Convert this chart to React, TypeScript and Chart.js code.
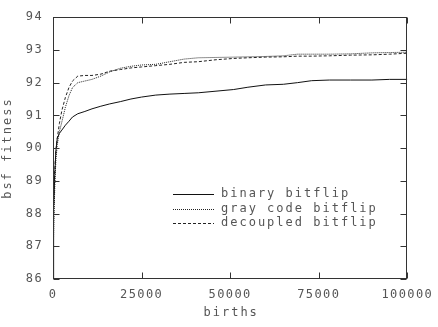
import { useEffect, useRef } from 'react';
import { Chart, registerables } from 'chart.js';

Chart.register(...registerables);

// Sample points (births) shared by the three best-so-far fitness curves
const births = [
  0, 100, 250, 500, 800, 1200, 1800, 2500, 3500, 4500, 5500, 7000, 9000, 11000,
  13500, 16000, 19000, 22000, 25000, 29000, 33000, 37000, 41000, 46000, 51000,
  55000, 60000, 65000, 69000, 73000, 78000, 84000, 90000, 95000, 100000,
];

const binaryBitflip = [
  86.0, 87.3, 88.2, 89.2, 89.9, 90.3, 90.45, 90.55, 90.7, 90.82, 90.95, 91.05,
  91.12, 91.2, 91.28, 91.35, 91.42, 91.5, 91.56, 91.62, 91.65, 91.67, 91.69,
  91.74, 91.79, 91.86, 91.93, 91.95, 92.0, 92.06, 92.08, 92.08, 92.08, 92.1, 92.1,
];

const grayCodeBitflip = [
  86.0, 87.0, 87.8, 88.8, 89.6, 90.1, 90.5, 90.8, 91.25, 91.6, 91.85, 92.0,
  92.05, 92.1, 92.2, 92.33, 92.44, 92.5, 92.54, 92.56, 92.64, 92.72, 92.76,
  92.77, 92.78, 92.79, 92.8, 92.82, 92.87, 92.87, 92.87, 92.88, 92.91, 92.92, 92.93,
];

const decoupledBitflip = [
  86.0, 87.4, 88.4, 89.3, 89.9, 90.3, 90.75, 91.15, 91.55, 91.85, 92.05, 92.2,
  92.22, 92.22, 92.26, 92.35, 92.4, 92.45, 92.48, 92.52, 92.56, 92.62, 92.64,
  92.7, 92.74, 92.76, 92.78, 92.79, 92.81, 92.81, 92.82, 92.84, 92.85, 92.87, 92.9,
];

const seriesLabels = ['binary bitflip', 'gray code bitflip', 'decoupled bitflip'];
const seriesDashes: number[][] = [[], [1, 1], [3, 2]];

const xTitle = 'births';
const yTitle = 'bsf fitness';

const FONT = '"DejaVu Sans Mono", monospace';
const INK = '#333333';
const TEXT = '#555555';

const toPoints = (ys: number[]) => births.map((b, i) => ({ x: b, y: ys[i] }));

// Frame, inward tick marks, axis titles and an in-plot legend
const decorations = {
  id: 'decorations',
  beforeDraw(chart: any) {
    (chart.ctx as any).letterSpacing = '1.4px';
  },
  afterDraw(chart: any) {
    const { ctx, chartArea: a, scales } = chart;
    ctx.save();
    ctx.strokeStyle = INK;
    ctx.lineWidth = 1;
    ctx.setLineDash([]);
    const L = Math.round(a.left) + 0.5;
    const R = Math.round(a.right) - 0.5;
    const T = Math.round(a.top) + 0.5;
    const B = Math.round(a.bottom) - 0.5;
    ctx.strokeRect(L, T, R - L, B - T);

    const tick = 6;
    ctx.beginPath();
    for (const t of scales.x.ticks) {
      const px = Math.round(scales.x.getPixelForValue(t.value)) + 0.5;
      ctx.moveTo(px, B);
      ctx.lineTo(px, B - tick);
      ctx.moveTo(px, T);
      ctx.lineTo(px, T + tick);
    }
    for (const t of scales.y.ticks) {
      const py = Math.round(scales.y.getPixelForValue(t.value)) + 0.5;
      ctx.moveTo(L, py);
      ctx.lineTo(L + tick, py);
      ctx.moveTo(R, py);
      ctx.lineTo(R - tick, py);
    }
    ctx.stroke();

    // axis titles
    ctx.fillStyle = TEXT;
    ctx.font = `12px ${FONT}`;
    (ctx as any).letterSpacing = '2px';
    ctx.textAlign = 'center';
    ctx.textBaseline = 'middle';
    ctx.fillText(xTitle, (a.left + a.right) / 2 + 1, 313);
    ctx.save();
    ctx.translate(8, (a.top + a.bottom) / 2);
    ctx.rotate(-Math.PI / 2);
    ctx.fillText(yTitle, 0, 0);
    ctx.restore();

    // legend
    const rowY = [194, 209, 223];
    ctx.textAlign = 'left';
    chart.data.datasets.forEach((ds: any, i: number) => {
      const y = rowY[i] + 0.5;
      ctx.strokeStyle = ds.borderColor;
      ctx.setLineDash(seriesDashes[i]);
      ctx.beginPath();
      ctx.moveTo(173, y);
      ctx.lineTo(214, y);
      ctx.stroke();
      ctx.fillText(ds.label, 221, rowY[i]);
    });
    ctx.restore();
  },
};

export default function App() {
  const canvasRef = useRef<HTMLCanvasElement | null>(null);

  useEffect(() => {
    document.body.style.margin = '0';
    const canvas = canvasRef.current;
    if (!canvas) return;
    const series = [binaryBitflip, grayCodeBitflip, decoupledBitflip];
    const colors = ['#111111', '#222222', '#222222'];
    const chart = new Chart(canvas, {
      type: 'line',
      data: {
        datasets: series.map((ys, i) => ({
          label: seriesLabels[i],
          data: toPoints(ys),
          borderColor: colors[i],
          borderWidth: 1,
          borderDash: seriesDashes[i],
          pointRadius: 0,
          fill: false,
          tension: 0,
        })),
      },
      options: {
        responsive: false,
        animation: false,
        devicePixelRatio: 1,
        layout: { padding: { top: 7, right: 25, left: 0, bottom: 0 } },
        plugins: {
          legend: { display: false },
          tooltip: { enabled: false },
        },
        scales: {
          x: {
            type: 'linear',
            min: 0,
            max: 100000,
            afterFit: (s: any) => {
              s.height = 48;
            },
            grid: { display: false, drawTicks: false },
            border: { display: false },
            ticks: {
              stepSize: 25000,
              padding: 9,
              maxRotation: 0,
              color: TEXT,
              font: { family: FONT, size: 12 },
              callback: (v: any) => String(v),
            },
          },
          y: {
            type: 'linear',
            min: 86,
            max: 94,
            afterFit: (s: any) => {
              s.width = 53;
            },
            grid: { display: false, drawTicks: false },
            border: { display: false },
            ticks: {
              stepSize: 1,
              padding: 10,
              color: TEXT,
              font: { family: FONT, size: 12 },
              callback: (v: any) => String(v),
            },
          },
        },
      },
      plugins: [decorations],
    });
    return () => chart.destroy();
  }, []);

  return (
    <canvas
      ref={canvasRef}
      width={438}
      height={327}
      style={{ display: 'block', width: 438, height: 327 }}
    />
  );
}
